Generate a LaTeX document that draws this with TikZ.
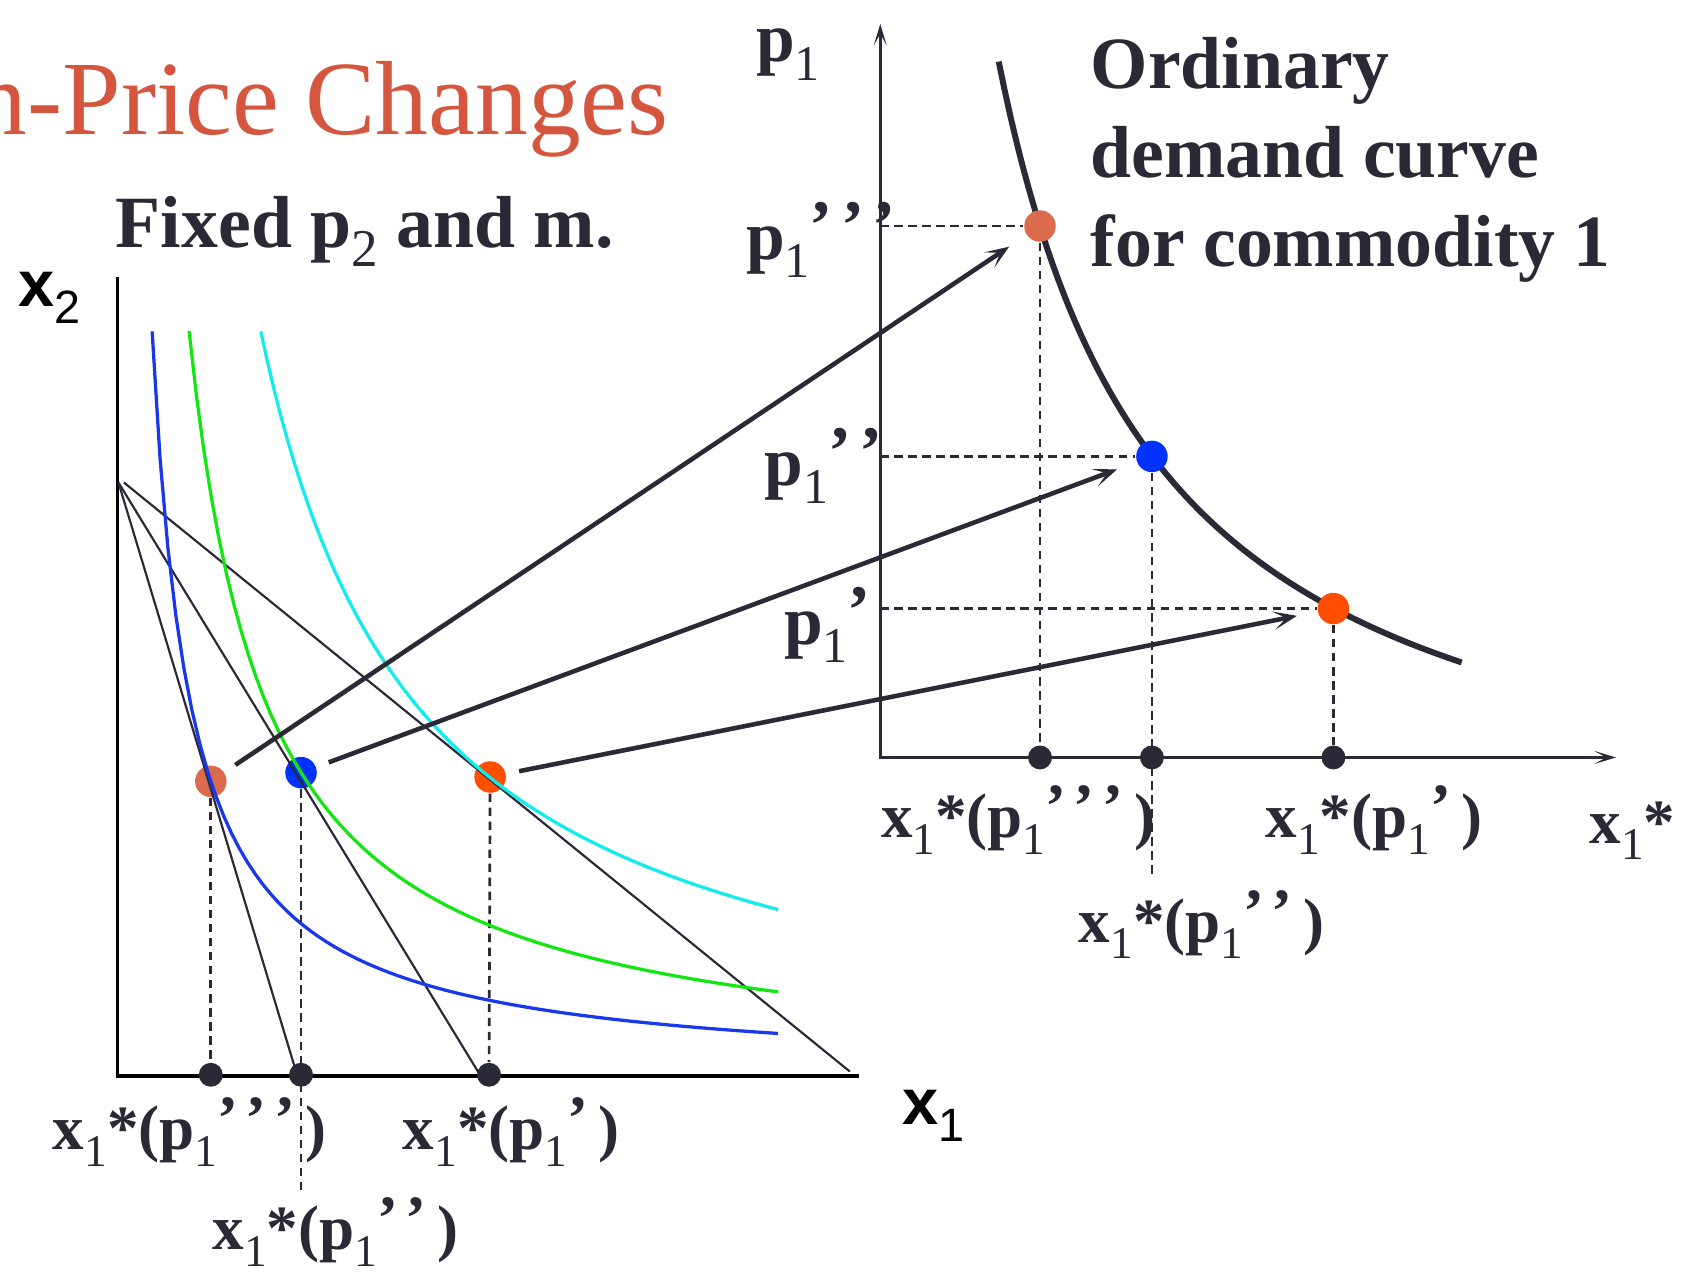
\documentclass[tikz,border=0pt]{standalone}
\usepackage{fontspec}
\setmainfont{Liberation Serif}
\setsansfont{Liberation Sans}
\usepackage{graphicx}
\usetikzlibrary{arrows.meta}
\definecolor{ink}{RGB}{42,42,54}
\definecolor{titlered}{RGB}{212,86,62}
\definecolor{dotbrown}{RGB}{220,106,76}
\definecolor{dotblue}{RGB}{0,50,255}
\definecolor{dotorange}{RGB}{255,78,0}
\definecolor{icblue}{RGB}{25,55,235}
\definecolor{icgreen}{RGB}{20,230,20}
\definecolor{iccyan}{RGB}{20,235,235}
\newcommand\sbs[1]{\raisebox{-.26em}{\scalebox{.72}{\mdseries #1}}}
\newcommand\prm{\raisebox{.16em}{’}}
\newcommand\xst[1]{x\sbs{1}*(p\sbs{1}#1)}

\begin{document}
\begin{tikzpicture}[x=.1mm,y=-.1mm,lbl/.style={anchor=base west,inner sep=0,text=ink,font=\fontsize{19.3}{23}\selectfont\bfseries},plbl/.style={lbl,font=\fontsize{18.2}{22}\selectfont\bfseries},slbl/.style={lbl,font=\fontsize{16.5}{20}\selectfont\bfseries},axlbl/.style={anchor=base west,inner sep=0,font=\fontsize{17}{20}\selectfont\sffamily\bfseries},eqdot/.style={circle,inner sep=0,minimum size=2.9mm},axdot/.style={circle,fill=ink,inner sep=0,minimum size=2.2mm},dropline/.style={ink,line width=.25mm,dash pattern=on .77mm off .52mm},budget/.style={ink,line width=.2mm},icurve/.style={line width=.3mm},maparrow/.style={ink,line width=.42mm,-{Stealth[length=2.2mm,width=1.7mm,inset=1.2mm]},shorten <=1.2mm,shorten >=1.9mm}]
\useasboundingbox (0,0) rectangle (1568,1171);
\node[anchor=base west,inner sep=0,text=titlered,font=\fontsize{27.6}{32}\selectfont] (ttl) at (-24,124) {n-Price Changes};
\node[lbl] (fix) at (106,228) {Fixed p\sbs{2} and m.};
\node[axlbl] (xtwo) at (16,282) {x\sbs{2}};
\node[axlbl] (xone) at (830,1035) {x\sbs{1}};
\draw[black,line width=.3mm] (108,255) |- (790,990);
\draw[ink,line width=.25mm,{Stealth[length=2mm,width=1.2mm,inset=1.1mm]}-{Stealth[length=2mm,width=1.2mm,inset=1.1mm]}] (810,22) |- (1487,697);
\draw[ink,line width=.55mm] plot[domain=109:535,samples=80] ({810+\x},{697-(1112/(\x/100+0.4)-106)});
\node[eqdot,fill=dotbrown] (dA) at (194,719) {};
\node[eqdot,fill=dotblue] (dB) at (277,711) {};
\node[eqdot,fill=dotorange] (dC) at (451,715) {};
\node[axdot] (tA) at (194,989) {};
\node[axdot] (tB) at (277,989) {};
\node[axdot] (tC) at (450,989) {};
\node[eqdot,fill=dotbrown] (qA) at (957,208) {};
\node[eqdot,fill=dotblue] (qB) at (1060,420) {};
\node[eqdot,fill=dotorange] (qC) at (1227,560) {};
\node[axdot] (sA) at (957,697) {};
\node[axdot] (sB) at (1060,697) {};
\node[axdot] (sC) at (1227,697) {};
\coordinate (apex) at (109,444);
\coordinate (apexr) at (114,444);
\coordinate (eA) at (273,988);
\coordinate (eB) at (441,988);
\coordinate (eC) at (782,986);
\coordinate (tBlow) at (277,1098);
\coordinate (sBlow) at (1060,808);
\coordinate (pA) at (810,208);
\coordinate (pB) at (810,420);
\coordinate (pC) at (810,560);
\draw[dropline] (dA) -- (tA);
\draw[dropline] (dB) -- (tBlow);
\draw[dropline] (dC) -- (tC);
\draw[dropline] (pA) -- (qA);
\draw[dropline] (pB) -- (qB);
\draw[dropline] (pC) -- (qC);
\draw[dropline] (qA) -- (sA);
\draw[dropline] (qB) -- (sBlow);
\draw[dropline] (qC) -- (sC);
\draw[budget] (apex) -- (eA);
\draw[budget] (apex) -- (eB);
\draw[budget] (apexr) -- (eC);
\draw[icurve,icblue] plot[domain=33:609,samples=80] ({107+\x},{990-(242.87/((\x+2.42)/100)-0.7)});
\draw[icurve,icgreen] plot[domain=67:609,samples=80] ({107+\x},{990-(492.8/((\x+4.6)/100)-3)});
\draw[icurve,iccyan] plot[domain=133:609,samples=80] ({107+\x},{990-(1019.2/((\x+13.5)/100)-10.7)});
\draw[maparrow] (dA) -- (qA);
\draw[maparrow] (dB) -- (qB);
\draw[maparrow] (dC) -- (qC);
\node[plbl] (pone) at (695,57) {p\sbs{1}};
\node[plbl] (ppp) at (686,239) {p\sbs{1}\prm\kern.12em\prm\kern.12em\prm};
\node[plbl] (pp) at (703,447) {p\sbs{1}\prm\kern.12em\prm};
\node[plbl] (p) at (721,593) {p\sbs{1}\prm};
\node[lbl] (ordA) at (1003,81) {Ordinary};
\node[lbl] (ordB) at (1003,163) {demand curve};
\node[lbl] (ordC) at (1003,245) {for commodity 1};
\node[slbl] (lxA) at (48,1058) {\xst{\prm\kern.12em\prm\kern.12em\prm\,}};
\node[slbl] (lxC) at (370,1058) {\xst{\prm\,}};
\node[slbl] (lxB) at (195,1150) {\xst{\prm\kern.12em\prm\,}};
\node[slbl] (rxA) at (810,771) {\xst{\prm\kern.12em\prm\kern.12em\prm\,}};
\node[slbl] (rxC) at (1164,771) {\xst{\prm\,}};
\node[slbl] (rxB) at (992,867) {\xst{\prm\kern.12em\prm\,}};
\node[slbl] (xstar) at (1462,776) {x\sbs{1}*};
\end{tikzpicture}
\end{document}
